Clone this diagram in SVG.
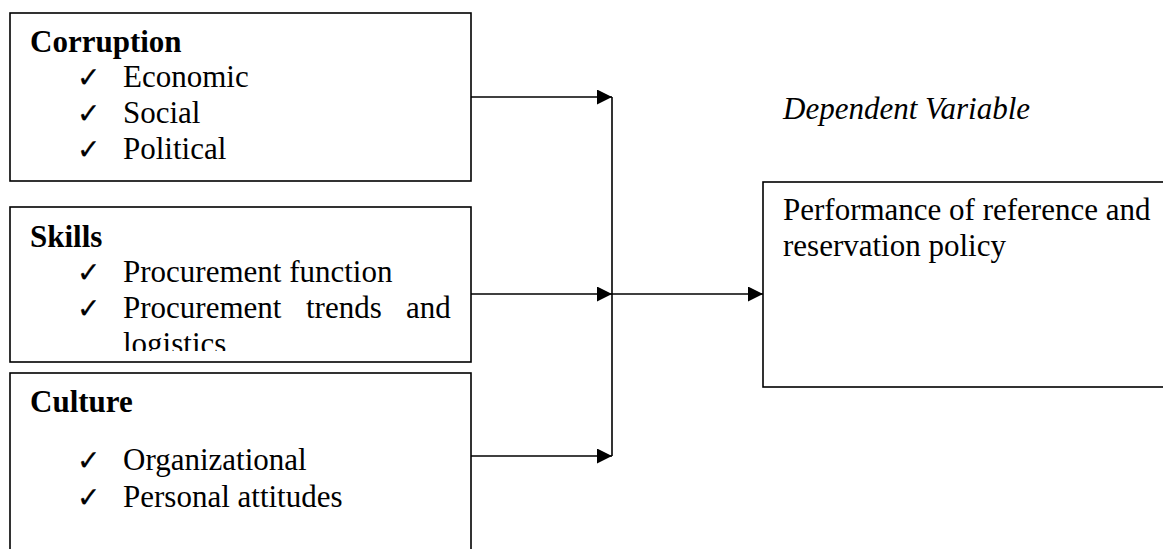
<svg xmlns="http://www.w3.org/2000/svg" width="1163" height="549" viewBox="0 0 1163 549">
  <style>
    .box { fill: #fff; stroke: #000; stroke-width: 1.6; }
    .head { font-family: "Liberation Serif", "Times New Roman", serif; font-size: 31px; font-weight: bold; fill: #000; }
    .item { font-family: "Liberation Serif", "Times New Roman", serif; font-size: 31px; fill: #000; }
    .tick { font-family: "DejaVu Sans", sans-serif; font-size: 28px; fill: #000; stroke: #000; stroke-width: 0.3; }
    .ital { font-family: "Liberation Serif", "Times New Roman", serif; font-size: 31px; font-style: italic; fill: #000; }
    .wire { fill: none; stroke: #000; stroke-width: 1.6; }
  </style>
  <defs>
    <marker id="arrow" markerUnits="userSpaceOnUse" markerWidth="16" markerHeight="16" refX="15" refY="7.5" orient="auto">
      <path d="M0,0 L15,7.5 L0,15 Z" fill="#000"/>
    </marker>
    <clipPath id="clipSkills">
      <rect x="10" y="207" width="461" height="144"/>
    </clipPath>
  </defs>
  <rect width="1163" height="549" fill="#fff"/>

  <!-- Connectors -->
  <g id="connectors">
    <path class="wire" d="M471,97 H612" marker-end="url(#arrow)"/>
    <path class="wire" d="M471,294 H612" marker-end="url(#arrow)"/>
    <path class="wire" d="M471,456 H612" marker-end="url(#arrow)"/>
    <path class="wire" d="M612,97 V456"/>
    <path class="wire" d="M612,294 H763" marker-end="url(#arrow)"/>
  </g>

  <!-- Corruption -->
  <g id="corruption">
    <rect class="box" x="10" y="13" width="461" height="168"/>
    <text class="head" x="30" y="52">Corruption</text>
    <text class="tick" x="77" y="87">✓</text>
    <text class="item" x="123" y="87">Economic</text>
    <text class="tick" x="77" y="123">✓</text>
    <text class="item" x="123" y="123">Social</text>
    <text class="tick" x="77" y="159">✓</text>
    <text class="item" x="123" y="159">Political</text>
  </g>

  <!-- Skills -->
  <g id="skills">
    <rect class="box" x="10" y="207" width="461" height="155"/>
    <text class="head" x="30" y="247">Skills</text>
    <text class="tick" x="77" y="282">✓</text>
    <text class="item" x="123" y="282">Procurement function</text>
    <text class="tick" x="77" y="318">✓</text>
    <text class="item" x="123" y="318">Procurement</text>
    <text class="item" x="306" y="318">trends</text>
    <text class="item" x="406" y="318">and</text>
    <g clip-path="url(#clipSkills)">
      <text class="item" x="123" y="354">logistics</text>
    </g>
  </g>

  <!-- Culture -->
  <g id="culture">
    <rect class="box" x="10" y="373" width="461" height="190"/>
    <text class="head" x="30" y="412">Culture</text>
    <text class="tick" x="77" y="470">✓</text>
    <text class="item" x="123" y="470">Organizational</text>
    <text class="tick" x="77" y="507">✓</text>
    <text class="item" x="123" y="507">Personal attitudes</text>
  </g>

  <!-- Dependent variable -->
  <g id="dependent-label">
    <text class="ital" x="783" y="119">Dependent Variable</text>
  </g>
  <g id="performance">
    <rect class="box" x="763" y="182" width="420" height="205"/>
    <text class="item" x="783" y="220">Performance of reference and</text>
    <text class="item" x="783" y="256">reservation policy</text>
  </g>
</svg>
